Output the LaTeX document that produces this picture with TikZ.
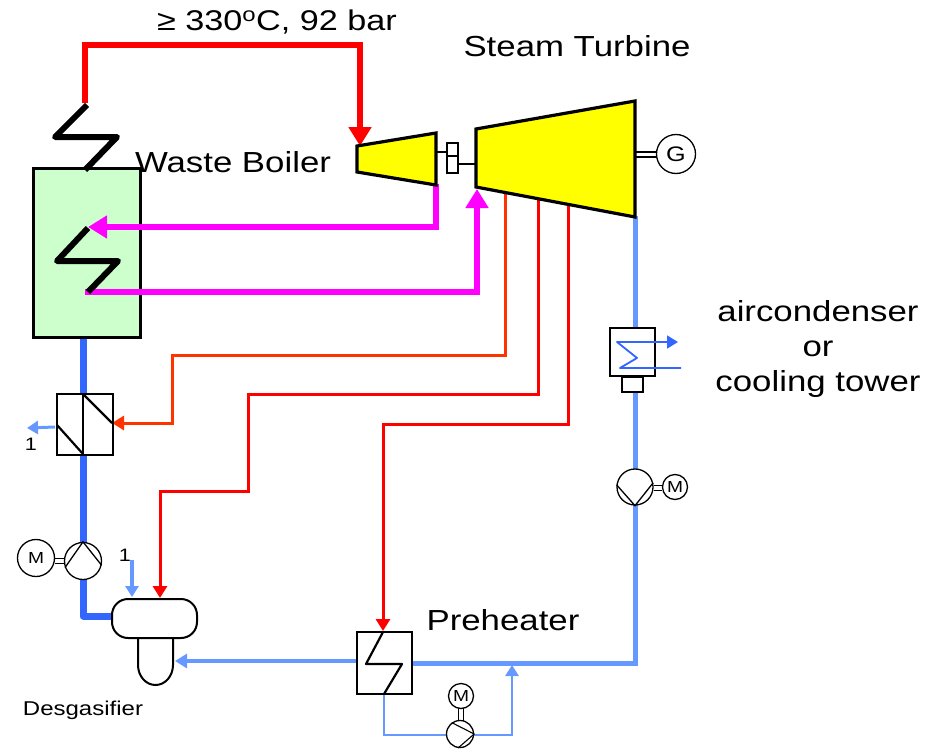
\documentclass[tikz,border=0pt]{standalone}
\usepackage{xcolor}
\usepackage{fontspec}
\setmainfont[FakeStretch=1.2]{Liberation Sans}
\usepackage{tikz}
\usetikzlibrary{arrows.meta}
\definecolor{hotred}{RGB}{255,0,0}
\definecolor{bleedred}{RGB}{255,51,0}
\definecolor{steamviolet}{RGB}{255,0,255}
\definecolor{waterdark}{RGB}{51,102,255}
\definecolor{waterlight}{RGB}{102,153,255}
\definecolor{boilergreen}{RGB}{204,255,204}
\definecolor{casingyellow}{RGB}{255,255,0}
\begin{document}
\begin{tikzpicture}[x=1pt,y=-1pt,
  title/.style={inner sep=0pt,font=\fontsize{29}{33}\selectfont},
  small/.style={inner sep=0pt,font=\fontsize{16}{20}\selectfont},
  unit/.style={rectangle,draw,line width=2.2pt,inner sep=0pt},
  roundel/.style={circle,draw,line width=1.3pt,fill=white,inner sep=0pt},
  coil/.style={line width=6pt,line join=round},
  bigtip/.style={-{Triangle[length=19pt,width=22pt]}},
  midtip/.style={-{Triangle[length=12pt,width=14pt]}},
  smalltip/.style={-{Triangle[length=11pt,width=13pt]}}]
\useasboundingbox (0,0) rectangle (941,749);
\coordinate (superout) at (85,103);
\coordinate (superbenda) at (85,45);
\coordinate (hpin) at (360,146);
\coordinate (hpout) at (436,184);
\coordinate (reheatin) at (88,227);
\coordinate (reheatout) at (85,292);
\coordinate (lpin) at (477,189);
\coordinate (bleeda) at (505,190);
\coordinate (bleedabend) at (172,355);
\coordinate (bleedb) at (538,200);
\coordinate (bleedbbenda) at (248,394);
\coordinate (bleedbbendb) at (160,491);
\coordinate (bleedc) at (568,205);
\coordinate (bleedcbend) at (383,424);
\coordinate (exhaust) at (635,216);
\coordinate (returnbend) at (635,663);
\coordinate (feeddown) at (83,616);
\coordinate (loopbenda) at (384,735);
\coordinate (loopbendb) at (512,735);
\coordinate (loopin) at (512,665);
\coordinate (makeup) at (132,560);
\coordinate (bleedout) at (55,427);
\coordinate (bleedoutend) at (27,428);
\coordinate (coolin) at (681,368);
\coordinate (coolout) at (678,342);
% boiler
\node (boiler) [unit,line width=3pt,fill=boilergreen,minimum width=107pt,minimum height=169pt] at (86.5,252.5) {};
% water lines
\draw[waterdark,line width=7pt] (boiler.south -| feeddown) -- (83,394);
\draw[waterdark,line width=7pt,line join=round] (83,455) -- (feeddown) -- (114,616);
\draw[waterlight,line width=5pt] (exhaust) -- (returnbend) -- (412,663);
\draw[waterlight,line width=4pt,midtip] (357,661) -- (175,661);
\draw[waterlight,line width=2.8pt] (384,694) -- (loopbenda) -- (447,735);
\draw[waterlight,line width=2.8pt,smalltip] (473,735) -- (loopbendb) -- (loopin);
\draw[waterlight,line width=3.2pt,smalltip] (makeup) -- (132,597);
\draw[waterlight,line width=3pt,smalltip] (bleedout) -- (bleedoutend);
% steam lines
\draw[hotred,line width=6pt,bigtip] (superout) -- (superbenda) -| (hpin);
\draw[steamviolet,line width=5.5pt,bigtip] (hpout) |- (reheatin);
\draw[steamviolet,line width=5.5pt,bigtip] (reheatout) -| (lpin);
\draw[bleedred,line width=3pt,midtip] (bleeda) |- (bleedabend) |- (112,423);
\draw[hotred,line width=3pt,midtip] (bleedb) |- (bleedbbenda) |- (bleedbbendb) -- (160,598);
\draw[hotred,line width=3pt,midtip] (bleedc) |- (bleedcbend) -- (383,631);
% coils
\draw[coil] (87,105) -- (55,137) -- (117,137) -- (85,170);
\draw[coil] (88,228) -- (57,261) -- (118,261) -- (88,292);
% turbines
\draw[line width=3.2pt,fill=casingyellow] (357,146) -- (436,133) -- (436,185) -- (357,172) -- cycle;
\draw[line width=3.2pt,fill=casingyellow] (476,129) -- (635,101) -- (635,217) -- (476,187) -- cycle;
\draw[line width=1.3pt] (436,152) -- (447,152);
\draw[line width=1.3pt] (458,164) -- (476,164);
\node (couplinga) [rectangle,draw,line width=1.3pt,minimum width=11pt,minimum height=13pt,inner sep=0pt] at (452.5,149.5) {};
\node (couplingb) [rectangle,draw,line width=1.3pt,minimum width=11pt,minimum height=17pt,inner sep=0pt] at (452.5,164.5) {};
\node (gen) [roundel,minimum size=39pt,font=\fontsize{21}{25}\selectfont] at (676,154) {G};
\draw[line width=1.2pt] (636,152) -- (gen.west |- 0,152);
\draw[line width=1.2pt] (636,157) -- (gen.west |- 0,157);
% condenser
\node (cond) [unit,fill=white,line width=1.5pt,minimum width=45pt,minimum height=48pt] at (632.5,352) {};
\node (hotwell) [unit,fill=white,line width=1.5pt,minimum width=21pt,minimum height=15pt] at (632.5,384.5) {};
\draw[waterdark,line width=1.8pt,line join=round,smalltip] (coolin) -- (620,368) -- (637,358) -- (617,342) -- (coolout);
\node (condpump) [roundel,minimum size=36pt] at (635,487) {};
\draw[line width=1.3pt] (condpump.173) -- (condpump.270) -- (condpump.13);
\node (condmotor) [roundel,minimum size=25pt,small] at (675,487) {M};
\draw[line width=1pt] (condpump.east |- 0,485) -- (condmotor.west |- 0,485);
\draw[line width=1pt] (condpump.east |- 0,490) -- (condmotor.west |- 0,490);
% heat exchanger
\node (hx) [unit,fill=white,minimum width=56pt,minimum height=61pt] at (85,424.5) {};
\draw[line width=2.2pt] (83,394) -- (83,455);
\draw[line width=2.2pt] (83,394) -- (112,423);
\draw[line width=2.2pt] (57,425) -- (83,454);
% feed pump
\node (feedpump) [roundel,minimum size=37pt] at (83,561) {};
\draw[line width=1.3pt] (feedpump.200) -- (feedpump.90) -- (feedpump.-13);
\node (feedmotor) [roundel,minimum size=37pt,small] at (36,558) {M};
\draw[line width=1pt] (feedmotor.east |- 0,558) -- (feedpump.west |- 0,558);
\draw[line width=1pt] (feedmotor.east |- 0,563) -- (feedpump.west |- 0,563);
% desgasifier
\draw[line width=2pt,fill=white] (138,638) -- (138,665) arc[start angle=180,end angle=0,x radius=17.5pt,y radius=-20pt] -- (173,638);
\node (degas) [rectangle,draw,line width=2pt,rounded corners=16pt,fill=white,minimum width=85pt,minimum height=39pt,inner sep=0pt] at (154.5,618.5) {};
% preheater
\node (preheater) [unit,fill=white,minimum width=55pt,minimum height=62pt] at (384.5,663) {};
\draw[line width=2.2pt,line join=round] (383,632) -- (366,664) -- (402,664) -- (384,694);
\node (looppump) [roundel,minimum size=27pt] at (460,734) {};
\draw[line width=1.1pt] (looppump.126) -- (looppump.0) -- (looppump.262);
\node (loopmotor) [roundel,minimum size=25pt,small] at (461,696) {M};
\draw[line width=1pt] (458.5,708) -- (458.5,721);
\draw[line width=1pt] (463,708) -- (463,721);
% labels
\node (livesteam) [inner sep=0pt,font=\fontsize{28.5}{33}\selectfont] at (277,22) {≥ 330\textsuperscript{o}C, 92 bar};
\node (turbinelabel) [title] at (577,46) {Steam Turbine};
\node (boilerlabel) [title] at (233,162) {Waste Boiler};
\node (coolinglabel) [title,align=center,font=\fontsize{29}{35}\selectfont] at (818,348.5) {aircondenser\\or\\cooling tower};
\node (preheaterlabel) [title] at (503,620) {Preheater};
\node (degaslabel) [inner sep=0pt,font=\fontsize{20}{24}\selectfont] at (83,710) {Desgasifier};
\node (makeuplabel) [inner sep=0pt,font=\fontsize{18}{20}\selectfont] at (125,555) {1};
\node (bleedlabel) [inner sep=0pt,font=\fontsize{18}{20}\selectfont] at (31,444) {1};
\end{tikzpicture}
\end{document}
